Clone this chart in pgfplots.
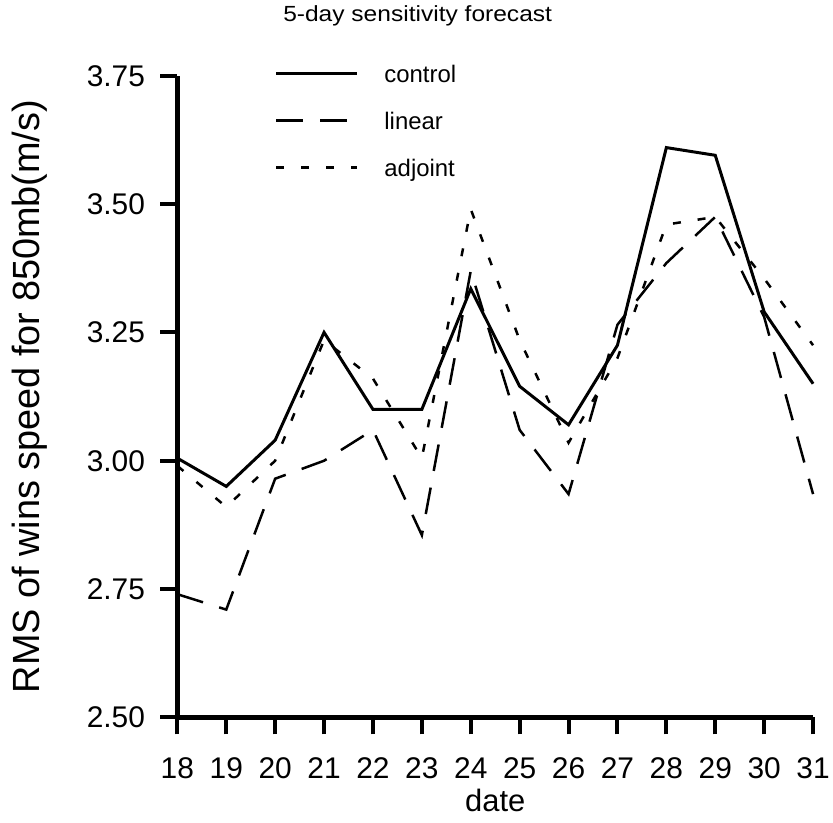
\documentclass[border=0pt]{standalone}
\usepackage{pgfplots}
\pgfplotsset{compat=1.18}
\usepackage{graphicx}
\usepackage{fontspec}
\setmainfont{Liberation Sans}
\begin{document}
\begin{tikzpicture}[x=1pt,y=1pt]
\path (0,0) rectangle (833,825);
\begin{axis}[
  at={(178pt,105pt)}, anchor=south west,
  scale only axis, width=638pt, height=644pt,
  xmin=18, xmax=31, ymin=2.5, ymax=3.75,
  axis x line=bottom, axis y line=left,
  axis line style={-, line width=4.5pt},
  xtick={18,...,31},
  ytick={2.5,2.75,3,3.25,3.5,3.75},
  y tick label style={/pgf/number format/fixed, /pgf/number format/fixed zerofill, /pgf/number format/precision=2, xshift=-12pt},
  /pgf/number format/assume math mode=true,
  tick align=outside,
  major tick length=17pt,
  tick style={line width=4pt, black},
  ticklabel style={font=\fontsize{30}{36}\selectfont},
  x tick label style={yshift=-20pt},
  title={\scalebox{1.12}[1]{5-day sensitivity forecast}},
  title style={at={(axis description cs:0.378,1.0745)}, anchor=base, inner sep=0pt, font=\fontsize{22}{26}\selectfont},
  xlabel={date},
  xlabel style={at={(axis description cs:0.5,-0.129)}, anchor=center, font=\fontsize{31}{36}\selectfont},
  ylabel={RMS of wins speed for 850mb(m/s)},
  ylabel style={at={(axis description cs:-0.232,0.5)}, anchor=center, font=\fontsize{38}{44}\selectfont},
  legend style={draw=none, fill=none, at={(axis description cs:0.153,1.016)}, anchor=north west,
     inner sep=0pt, row sep=25pt, column sep=26pt,
     nodes={inner sep=0pt, text height=17pt, text depth=5pt},
     font=\fontsize{24}{28}\selectfont},
  legend cell align=left,
  legend image code/.code={\draw[#1] (0pt,3pt) -- (81pt,3pt);},
  clip=false,
]
\addplot[black, line width=3pt, line join=miter] coordinates {
(18,3.005) (19,2.95) (20,3.04) (21,3.25) (22,3.10) (23,3.10) (24,3.335)
(25,3.145) (26,3.07) (27,3.225) (28,3.61) (29,3.595) (30,3.29) (31,3.15)};
\addlegendentry{control}
\addplot[black, line width=2.5pt, dash pattern=on 27pt off 17pt] coordinates {
(18,2.74) (19,2.71) (20,2.965) (21,3.00) (22,3.06) (23,2.855) (24,3.37)
(25,3.06) (26,2.935) (27,3.265) (28,3.385) (29,3.475) (30,3.28) (31,2.935)};
\addlegendentry{linear}
\addplot[black, line width=2.5pt, dash pattern=on 8pt off 17pt] coordinates {
(18,2.99) (19,2.91) (20,3.00) (21,3.235) (22,3.16) (23,3.005) (24,3.49)
(25,3.235) (26,3.035) (27,3.20) (28,3.46) (29,3.475) (30,3.355) (31,3.225)};
\addlegendentry{adjoint}
\end{axis}
\end{tikzpicture}
\end{document}
